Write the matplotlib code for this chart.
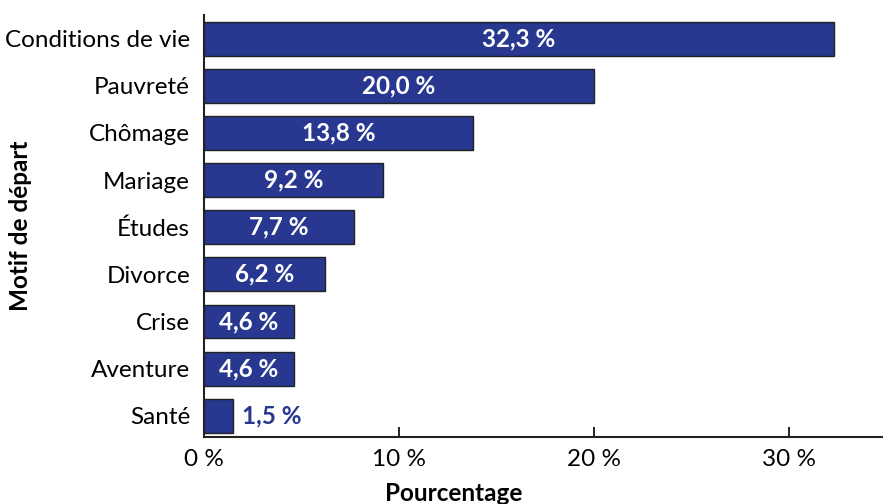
import matplotlib.pyplot as plt

plt.rcParams['font.family'] = ['Lato', 'DejaVu Sans']

# motifs de départ et pourcentages
motifs = ['Conditions de vie', 'Pauvreté', 'Chômage', 'Mariage', 'Études',
          'Divorce', 'Crise', 'Aventure', 'Santé']
valeurs = [32.3, 20.0, 13.8, 9.2, 7.7, 6.2, 4.6, 4.6, 1.5]
etiquettes = ['32,3 %', '20,0 %', '13,8 %', '9,2 %', '7,7 %',
              '6,2 %', '4,6 %', '4,6 %', '1,5 %']
ticks = [0, 10, 20, 30]
tick_labels = ['0 %', '10 %', '20 %', '30 %']

bleu = '#283891'
fs = 17.5

fig = plt.figure(figsize=(8.83, 5.04), dpi=100)
ax = fig.add_axes([0.231, 0.133, 0.769, 0.837])

pos = list(range(len(motifs)))
ax.barh(pos, valeurs, height=0.72, color=bleu, edgecolor='#222222', linewidth=1)

for p, v, lab in zip(pos, valeurs, etiquettes):
    if v > 3:
        ax.text(v / 2, p, lab, ha='center', va='center', color='white',
                fontsize=fs, fontweight='bold')
    else:
        ax.text(v + 0.45, p, lab, ha='left', va='center', color=bleu,
                fontsize=fs, fontweight='bold')

ax.set_ylim(8.45, -0.5)
ax.set_xlim(0, 34.8)
ax.set_yticks(pos)
ax.set_yticklabels(motifs, fontsize=fs)
ax.set_xticks(ticks)
ax.set_xticklabels(tick_labels, fontsize=fs)
ax.tick_params(axis='y', length=0, pad=10)
ax.tick_params(axis='x', direction='in', length=7, width=1.2, pad=9)

for s in ['top', 'right']:
    ax.spines[s].set_visible(False)
for s in ['left', 'bottom']:
    ax.spines[s].set_linewidth(1.5)
    ax.spines[s].set_color('#222222')

ax.set_xlabel('Pourcentage', fontsize=fs, fontweight='bold')
ax.xaxis.set_label_coords(0.368, -0.107)
ax.set_ylabel('Motif de départ', fontsize=fs, fontweight='bold')
ax.yaxis.set_label_coords(-0.253, 0.5)

fig.savefig('out.png', dpi=100)
